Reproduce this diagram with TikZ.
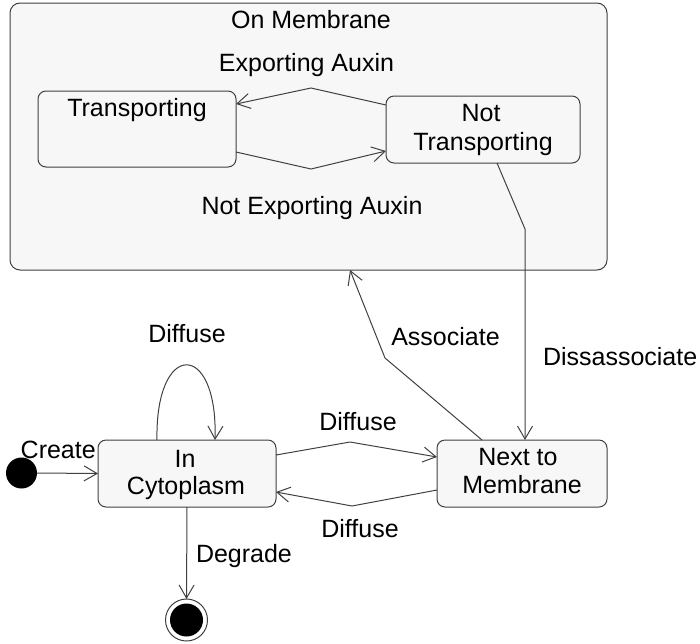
\documentclass[tikz,border=0pt]{standalone}
\usepackage{fontspec}
\setmainfont{Liberation Sans}
\usetikzlibrary{arrows.meta}
\begin{document}
\begin{tikzpicture}[x=1pt,y=-1pt,
  every node/.style={inner sep=0pt,outer sep=0pt},
  lbl/.style={font=\fontsize{25}{29}\selectfont,text=black,anchor=base},
  lblw/.style={lbl,anchor=base west},
  statebox/.style={draw=black!75,line width=1pt,fill=black!3,rounded corners=8pt},
  arr/.style={draw=black!75,line width=1pt,-{Straight Barb[length=13pt,width=15pt,line width=1pt]}},
  ln/.style={draw=black!75,line width=1pt}]
\useasboundingbox (0,0) rectangle (700,643);

% composite state
\node[statebox,rounded corners=10pt,minimum width=597pt,minimum height=267pt] (mem) at (308.5,136.5) {};
\node[lbl] (memtxt) at (311,28.3) {On Membrane};

% substates
\node[statebox,minimum width=198pt,minimum height=76pt] (trans) at (137,129) {};
\node[lbl] (transtxt) at (137,116) {Transporting};
\node[statebox,minimum width=194pt,minimum height=67pt] (nottrans) at (483,129.5) {};
\node[lbl] (nottxta) at (481,121) {Not};
\node[lbl] (nottxtb) at (483,150) {Transporting};

% cytoplasm / membrane neighbourhood
\node[statebox,minimum width=178pt,minimum height=67pt] (cyto) at (187,473.5) {};
\node[lbl] (cytoa) at (185,467) {In};
\node[lbl] (cytob) at (186,494) {Cytoplasm};
\node[statebox,minimum width=170pt,minimum height=67pt] (next) at (522,473.5) {};
\node[lbl] (nexta) at (518,465) {Next to};
\node[lbl] (nextb) at (522,493) {Membrane};

% pseudo states
\node[circle,fill=black,minimum size=31pt] (init) at (21.5,473) {};
\node[circle,draw=black!75,line width=1pt,fill=white,minimum size=42pt] (final) at (186.5,620) {};
\node[circle,fill=black,minimum size=33pt] (finalin) at (186.5,620) {};

% bend points
\coordinate (expbend) at (311,88);
\coordinate (nexpbend) at (311,169);
\coordinate (disbend) at (525,229);
\coordinate (assbend) at (385,358);
\coordinate (difupbend) at (350,442);
\coordinate (difdnbend) at (352,506);

% transitions inside the membrane state
\draw[arr] ([yshift=24.5pt]nottrans.west) -- (expbend) -- ([yshift=25pt]trans.east);
\node[lbl] (exptxt) at (306.5,71.7) {Exporting Auxin};
\draw[arr] ([yshift=-23pt]trans.east) -- (nexpbend) -- ([yshift=-21.5pt]nottrans.west);
\node[lbl] (nexptxt) at (312,214) {Not Exporting Auxin};

% membrane <-> next to membrane
\draw[arr] ([xshift=14pt]nottrans.south) -- (disbend) -- (disbend |- next.north);
\node[lblw] (distxt) at (543,365) {Dissassociate};
\draw[arr] ([xshift=-40pt]next.north) -- (assbend) -- ([xshift=41.5pt]mem.south);
\node[lbl] (asstxt) at (445.5,345) {Associate};

% diffusion
\draw[arr] ([xshift=-30pt]cyto.north) .. controls (155,340) and (218,340) .. ([xshift=28pt]cyto.north);
\node[lbl] (loopdif) at (187,342) {Diffuse};
\draw[arr] ([yshift=18.5pt]cyto.east) -- (difupbend) -- ([yshift=16.5pt]next.west);
\node[lbl] (updif) at (358,430) {Diffuse};
\draw[arr] ([yshift=-16.5pt]next.west) -- (difdnbend) -- ([yshift=-18.5pt]cyto.east);
\node[lbl] (dndif) at (360,537) {Diffuse};

% creation and degradation
\draw[arr] (init.east) -- (cyto.west);
\node[lblw] (createtxt) at (20.7,458) {Create};
\draw[arr] (cyto.south) -- (final.north);
\node[lblw] (degtxt) at (196,562) {Degrade};
\end{tikzpicture}
\end{document}
